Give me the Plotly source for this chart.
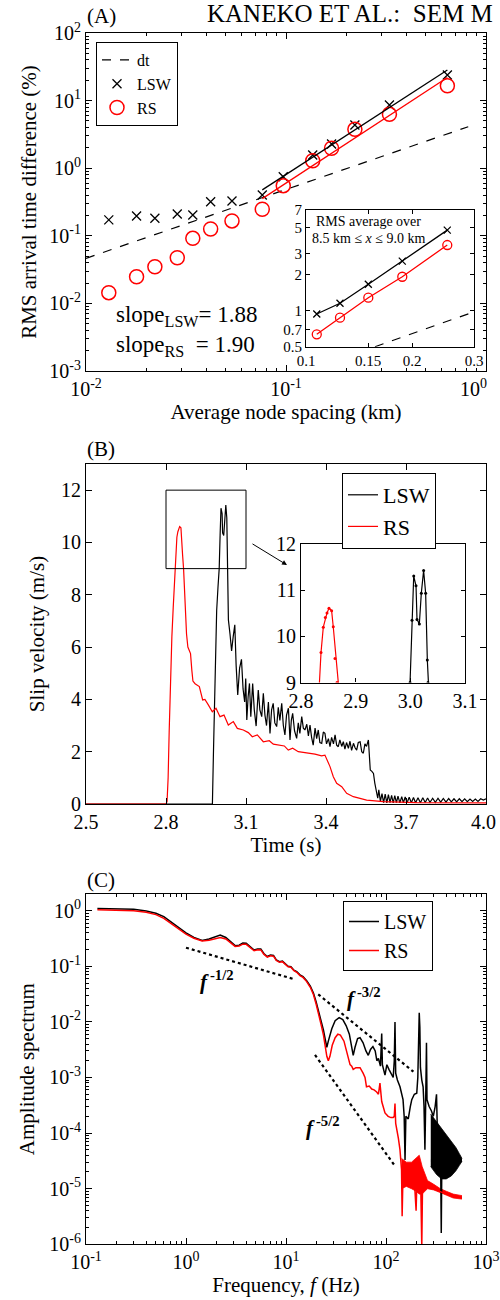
import numpy as np
import plotly.graph_objects as go

FONT = "Liberation Serif, Times New Roman, Times, serif"
W, H = 500, 1300

# ---------------- Panel A data ----------------
spacing_km = [0.0130, 0.0179, 0.0221, 0.0286, 0.0342, 0.0420, 0.0537,
              0.0761, 0.0969, 0.136, 0.169, 0.221, 0.329, 0.641]
rms_lsw = [0.172, 0.196, 0.182, 0.210, 0.203, 0.319, 0.327,
           0.402, 0.748, 1.57, 2.28, 4.35, 8.6, 23.9]
rms_rs = [0.0144, 0.0248, 0.0349, 0.0474, 0.0918, 0.126, 0.166,
          0.247, 0.551, 1.29, 1.97, 3.76, 6.27, 16.6]
dt_x = [0.01, 0.815]
dt_y = [0.0464, 4.11]
n_fit = 7

inset_spacing = [0.1073, 0.1249, 0.1503, 0.1877, 0.2519]
inset_lsw = [0.94, 1.156, 1.667, 2.61, 4.75]
inset_rs = [0.635, 0.875, 1.288, 1.93, 3.56]
inset_dt_x = [0.157, 0.3]
inset_dt_y = [0.5, 0.98]

# ---------------- Panel B data ----------------
rs_t = [2.5, 2.8, 2.804, 2.808, 2.812, 2.817, 2.822, 2.827, 2.832, 2.8366, 2.8408,
        2.8445, 2.8476, 2.8512, 2.856, 2.859, 2.8622, 2.8659, 2.869, 2.873, 2.877,
        2.882, 2.887, 2.892, 2.897, 2.901, 2.909, 2.925, 2.9375, 2.946, 2.9587,
        2.9737, 2.9875, 3.0025, 3.0175, 3.0337, 3.0525, 3.0675, 3.09, 3.1087,
        3.1237, 3.1424, 3.1649, 3.1873, 3.2024, 3.2274, 3.2437, 3.2586, 3.275,
        3.296, 3.3275, 3.3587, 3.3837, 3.396, 3.415, 3.4274, 3.44, 3.459, 3.4775,
        3.5025, 3.5525, 3.615, 3.74, 4.0]
rs_v = [0, 0, 0.1, 1.0, 2.8, 4.8, 6.4, 7.5, 8.6, 9.65, 10.2,
        10.41, 10.51, 10.61, 10.56, 10.21, 9.52, 9.0, 8.2, 7.3, 6.5,
        6.0, 5.9, 5.75, 5.1, 4.7, 4.6, 4.49, 3.98, 4.0, 3.79,
        3.53, 3.66, 3.34, 3.40, 3.02, 3.15, 2.89, 2.83, 2.73,
        2.57, 2.64, 2.38, 2.42, 2.29, 2.25, 2.22, 2.06, 2.13,
        2.0, 1.96, 1.91, 1.84, 1.87, 1.43, 1.04, 0.79, 0.66, 0.41,
        0.28, 0.15, 0.09, 0.05, 0.04]

lsw_t = [2.5, 2.974, 2.978, 2.982, 2.986, 2.99, 2.995, 2.9995, 3.0031, 3.0062,
         3.0104, 3.0122, 3.0165, 3.0201, 3.0243, 3.028, 3.0311, 3.0323, 3.034,
         3.040, 3.046, 3.052, 3.058, 3.063, 3.069, 3.076, 3.083, 3.089, 3.095,
         3.099, 3.103, 3.108, 3.113, 3.118, 3.125, 3.131, 3.138, 3.146, 3.152,
         3.159, 3.165, 3.171, 3.177, 3.184, 3.190, 3.196, 3.202, 3.208, 3.215,
         3.221, 3.227, 3.234, 3.240, 3.246, 3.252, 3.259, 3.265, 3.270, 3.275,
         3.282, 3.290, 3.296, 3.302, 3.309, 3.315, 3.321, 3.328, 3.334, 3.340,
         3.346, 3.352, 3.359, 3.365, 3.371, 3.377, 3.384, 3.390, 3.396, 3.402,
         3.409, 3.415, 3.421, 3.428, 3.434, 3.440, 3.446, 3.452, 3.459, 3.465,
         3.471, 3.477, 3.484, 3.490, 3.496, 3.503, 3.509, 3.515, 3.521, 3.528,
         3.534, 3.540, 3.546, 3.552, 3.559, 3.562, 3.566, 3.572, 3.578, 3.583,
         3.587, 3.590, 3.594, 3.598, 3.604, 3.610, 3.616, 3.622, 3.628, 3.634,
         3.640, 3.646, 3.652, 3.658, 3.664, 3.670, 3.677, 3.684, 3.690, 3.697,
         3.704, 3.712, 3.720, 3.728, 3.736, 3.745, 3.754, 3.763, 3.772, 3.781,
         3.790, 3.800, 3.810, 3.820, 3.830, 3.840, 3.850, 3.860, 3.870, 3.880,
         3.890, 3.900, 3.910, 3.920, 3.930, 3.940, 3.950, 3.960, 3.970, 3.980,
         3.990, 4.000]
lsw_v = [0, 0, 2.0, 4.0, 6.0, 7.4, 8.3, 9.0, 10.35, 11.31,
         11.1, 10.37, 10.27, 10.94, 11.43, 10.94, 9.49, 9.0, 7.04,
         6.50, 5.85, 6.40, 6.85, 5.30, 4.17, 5.20, 5.53, 4.40, 3.90,
         4.80, 3.21, 4.10, 4.61, 3.34, 4.61, 3.60, 2.98, 4.36, 3.60,
         3.34, 4.23, 3.40, 3.00, 3.90, 2.70, 3.60, 3.85, 3.10, 2.96,
         3.70, 3.20, 3.85, 3.00, 2.64, 3.40, 3.66, 2.45, 3.20, 3.47,
         2.80, 2.51, 3.10, 2.70, 3.34, 2.90, 2.83, 3.05, 2.60, 3.02,
         2.55, 2.25, 2.90, 2.50, 2.83, 2.35, 2.32, 2.75, 2.70, 2.30,
         2.50, 2.19, 2.55, 2.30, 2.64, 2.25, 2.19, 2.45, 2.20, 2.38,
         2.10, 2.35, 2.13, 2.40, 2.05, 2.32, 2.15, 2.06, 2.35, 2.38,
         2.00, 1.94, 2.30, 2.20, 2.45, 1.90, 1.30, 1.25, 1.17, 0.80,
         0.60, 0.47, 0.22, 0.54, 0.10, 0.40, 0.05, 0.38, 0.04, 0.36,
         0.05, 0.33, 0.04, 0.32, 0.05, 0.30, 0.04, 0.28, 0.05, 0.27,
         0.05, 0.26, 0.05, 0.25, 0.05, 0.24, 0.05, 0.24, 0.06, 0.23,
         0.06, 0.22, 0.06, 0.22, 0.07, 0.21, 0.07, 0.21, 0.08, 0.20,
         0.08, 0.20, 0.09, 0.20, 0.09, 0.19, 0.10, 0.19, 0.10, 0.20,
         0.15, 0.20]
zoom_t = [2.8, 3.1]
zoom_v = [9, 12]

# ---------------- Panel C data ----------------
lsw_f = [0.13, 0.2, 0.3, 0.4, 0.5, 0.6, 0.7, 0.85, 1.0, 1.2, 1.45, 1.7, 2.0, 2.2,
         2.5, 2.8, 3.1, 3.4, 3.7, 4.0, 4.4, 4.8, 5.2, 5.6, 6.0, 6.5, 7.0, 7.5,
         8.0, 8.6, 9.2, 9.8, 10.5, 11.2, 12.0, 12.8, 13.8, 14.8, 16.1, 17.5,
         18.8, 20.0, 21.1, 22.5, 23.7, 24.6, 25.6, 26.5, 28.7, 31.0, 34.0, 37.0,
         40.0, 43.0, 45.0, 47.0, 49.0, 52.0, 55.0, 59.0, 63.0, 66.5, 70.0, 74.0,
         78.0, 81.0, 84.0, 88.0, 90.6, 92.0, 97.7, 102, 107, 112, 118, 121, 123,
         125, 130, 138, 148, 152, 155, 158, 167, 175, 181, 192, 203, 208, 212,
         215, 218, 221, 228, 235, 240, 245, 249, 254, 257, 270, 285, 297, 310,
         320, 325, 335, 347, 352, 357, 362, 370, 400, 450, 500, 575]
lsw_amp = [1.10, 1.09, 1.06, 0.99, 0.90, 0.78, 0.64, 0.50, 0.40, 0.33, 0.29, 0.31,
           0.35, 0.365, 0.33, 0.27, 0.235, 0.24, 0.262, 0.26, 0.22, 0.196, 0.205,
           0.205, 0.17, 0.15, 0.16, 0.157, 0.13, 0.121, 0.124, 0.112, 0.10, 0.098,
           0.085, 0.08, 0.07, 0.065, 0.055, 0.044, 0.033, 0.023, 0.0164, 0.010,
           0.0071, 0.0050, 0.0035, 0.0045, 0.0075, 0.0105, 0.0119, 0.0110, 0.0085,
           0.0060, 0.0038, 0.0025, 0.0035, 0.0050, 0.0052, 0.0042, 0.0030, 0.0025,
           0.0032, 0.0036, 0.0030, 0.0020, 0.0022, 0.0016, 0.0062, 0.0017, 0.0011,
           0.0017, 0.0014, 0.0012, 0.0010, 0.0020, 0.0099, 0.0012, 0.0009, 0.00068,
           0.0004, 0.0002, 0.000033, 0.0002, 0.00018, 0.0003, 0.0004, 0.0005,
           0.00052, 0.0010, 0.0050, 0.0146, 0.0080, 0.0015, 0.0009, 0.00068,
           0.0003, 0.00005, 0.0003, 0.0042, 0.0004, 0.0003, 0.00025, 0.0002,
           0.0003, 0.0005, 0.00015, 0.00012, 0.0001, 0.00003, 0.0000016, 0.00004,
           0.00009, 0.00004, 0.000035, 0.000033, 0.000033]
lsw_band_f = [280, 320, 360, 400, 450, 500, 540, 575]
lsw_band_hi = [2.2e-4, 1.6e-4, 1.2e-4, 9e-5, 7e-5, 5.5e-5, 4.3e-5, 3.5e-5]
lsw_band_lo = [2.5e-5, 1.8e-5, 1.5e-5, 1.5e-5, 1.7e-5, 2.1e-5, 2.6e-5, 3.1e-5]

rs_f = [0.13, 0.2, 0.3, 0.4, 0.5, 0.6, 0.7, 0.85, 1.0, 1.2, 1.45, 1.7, 2.0, 2.2,
        2.5, 2.8, 3.1, 3.4, 3.7, 4.0, 4.4, 4.8, 5.2, 5.6, 6.0, 6.5, 7.0, 7.5,
        8.0, 8.6, 9.2, 9.8, 10.5, 11.2, 12.0, 12.8, 13.8, 14.8, 16.1, 17.5,
        18.8, 20.0, 21.1, 22.5, 23.7, 24.6, 25.6, 26.5, 27.5, 29.0, 31.0, 33.0,
        35.0, 38.0, 41.0, 43.7, 45.4, 47.0, 50.0, 55.0, 59.0, 61.7, 63.8, 68.0,
        72.0, 76.0, 80.7, 84, 87, 89, 90.6, 97.7, 105, 112, 118, 121, 123, 125,
        127, 133, 138, 143, 145, 148, 160, 175, 190, 200, 205, 215, 222, 228,
        232, 260, 300, 350, 400, 470, 575]
rs_amp = [1.04, 1.03, 1.00, 0.94, 0.85, 0.73, 0.60, 0.47, 0.38, 0.32, 0.285, 0.295,
          0.32, 0.33, 0.31, 0.26, 0.228, 0.232, 0.25, 0.248, 0.212, 0.19, 0.198,
          0.197, 0.165, 0.146, 0.155, 0.152, 0.127, 0.118, 0.121, 0.11, 0.098,
          0.096, 0.083, 0.078, 0.068, 0.063, 0.053, 0.042, 0.031, 0.021, 0.0148,
          0.0088, 0.0058, 0.0038, 0.0024, 0.0020, 0.0024, 0.0038, 0.0052, 0.0060,
          0.0058, 0.0045, 0.0028, 0.0017, 0.0016, 0.0014, 0.0015, 0.0015, 0.0012,
          0.0010, 0.00068, 0.0007, 0.00062, 0.0006, 0.00055, 0.0005, 0.00079,
          0.0004, 0.00037, 0.00023, 0.0002, 0.00019, 0.00019, 0.0002, 0.00034,
          0.00015, 0.00013, 0.00008, 0.00005, 0.000022, 0.0000032, 0.00002,
          0.00002, 0.000015, 0.00002, 0.000004, 0.00002, 0.00003, 0.000015,
          0.0000009, 0.000012, 0.000011, 0.0000098, 0.0000088, 0.000008,
          0.0000072, 0.0000068]
rs_band_f = [143, 160, 180, 200, 215, 230, 260, 300, 350, 400, 470, 575]
rs_band_hi = [3.5e-5, 3.0e-5, 3.0e-5, 3.5e-5, 4.0e-5, 2.5e-5, 1.4e-5, 1.2e-5,
              1.0e-5, 9e-6, 8e-6, 7.5e-6]
rs_band_lo = [1.0e-5, 1.1e-5, 1.0e-5, 9e-6, 8e-6, 8e-6, 1.0e-5, 9.5e-6,
              8.5e-6, 7.7e-6, 6.8e-6, 6.5e-6]

ref_half_f = [1.0, 12.3]
ref_half_amp = [0.216, 0.058]
ref_3half_f = [21.0, 188.0]
ref_3half_amp = [0.0313, 0.00127]
ref_5half_f = [19.5, 123.0]
ref_5half_amp = [0.00254, 2.56e-5]

# ---------------- helpers ----------------
def dx(p0, p1):
    return [p0 / W, p1 / W]

def dy(top, bot):
    return [1 - bot / H, 1 - top / H]

def px(x):
    return x / W

def py(y):
    return 1 - y / H

NB = "\u00a0"

def pw(exp, pad=0):
    return "10<sup>%d</sup>" % exp + NB * pad

def base_axis(**kw):
    d = dict(showline=True, linecolor="black", linewidth=1.2, mirror="ticks",
             ticks="inside", ticklen=6, tickcolor="black", tickwidth=1,
             showgrid=False, zeroline=False, automargin=False, ticklabeloverflow="allow",
             tickfont=dict(family=FONT, size=20, color="black"))
    d.update(kw)
    return d

def minor_vals(e0, e1):
    return [k * 10.0 ** e for e in range(e0, e1) for k in range(2, 10)]

def minor_log(e0, e1):
    return dict(ticks="inside", ticklen=3, tickcolor="black", showgrid=False,
                tickmode="array", tickvals=minor_vals(e0, e1))

fig = go.Figure()

# ---------- Panel A ----------
lx = np.log10(spacing_km[-n_fit:])
c_lsw = np.polyfit(lx, np.log10(rms_lsw[-n_fit:]), 1)
c_rs = np.polyfit(lx, np.log10(rms_rs[-n_fit:]), 1)
fit_x = np.array([spacing_km[-n_fit], spacing_km[-1]])

fig.add_trace(go.Scatter(x=dt_x, y=dt_y, mode="lines", name="dt",
                         line=dict(color="black", width=1.2, dash="dash"),
                         xaxis="x", yaxis="y", legend="legend"))
fig.add_trace(go.Scatter(x=spacing_km, y=rms_lsw, mode="markers", name="LSW",
                         marker=dict(symbol="x-thin", size=9, line=dict(color="black", width=1.3)),
                         xaxis="x", yaxis="y", legend="legend"))
fig.add_trace(go.Scatter(x=spacing_km, y=rms_rs, mode="markers", name="RS",
                         marker=dict(symbol="circle-open", size=14, color="red", line=dict(color="red", width=1.5)),
                         xaxis="x", yaxis="y", legend="legend"))
fig.add_trace(go.Scatter(x=fit_x, y=10 ** np.polyval(c_lsw, np.log10(fit_x)), mode="lines",
                         line=dict(color="black", width=1.3), showlegend=False, xaxis="x", yaxis="y"))
fig.add_trace(go.Scatter(x=fit_x, y=10 ** np.polyval(c_rs, np.log10(fit_x)), mode="lines",
                         line=dict(color="red", width=1.3), showlegend=False, xaxis="x", yaxis="y"))

# inset A
fig.add_trace(go.Scatter(x=inset_dt_x, y=inset_dt_y, mode="lines", showlegend=False,
                         line=dict(color="black", width=1.2, dash="dash"), xaxis="x2", yaxis="y2"))
fig.add_trace(go.Scatter(x=inset_spacing, y=inset_lsw, mode="lines+markers", showlegend=False,
                         line=dict(color="black", width=1.3),
                         marker=dict(symbol="x-thin", size=7, line=dict(color="black", width=1.3)),
                         xaxis="x2", yaxis="y2"))
fig.add_trace(go.Scatter(x=inset_spacing, y=inset_rs, mode="lines+markers", showlegend=False,
                         line=dict(color="red", width=1.3),
                         marker=dict(symbol="circle-open", size=9, color="red", line=dict(color="red", width=1.3)),
                         xaxis="x2", yaxis="y2"))

# ---------- Panel B ----------
fig.add_trace(go.Scatter(x=lsw_t, y=lsw_v, mode="lines", name="LSW",
                         line=dict(color="black", width=1.2), xaxis="x3", yaxis="y3", legend="legend2"))
fig.add_trace(go.Scatter(x=rs_t, y=rs_v, mode="lines", name="RS",
                         line=dict(color="red", width=1.2), xaxis="x3", yaxis="y3", legend="legend2"))
fig.add_trace(go.Scatter(x=lsw_t, y=lsw_v, mode="lines+markers", showlegend=False,
                         line=dict(color="black", width=1.2), marker=dict(size=3, color="black"),
                         xaxis="x4", yaxis="y4"))
fig.add_trace(go.Scatter(x=rs_t, y=rs_v, mode="lines+markers", showlegend=False,
                         line=dict(color="red", width=1.2), marker=dict(size=3, color="red"),
                         xaxis="x4", yaxis="y4"))

# ---------- Panel C ----------
for ff, hi, lo, col in [(lsw_band_f, lsw_band_hi, lsw_band_lo, "black"),
                        (rs_band_f, rs_band_hi, rs_band_lo, "red")]:
    fig.add_trace(go.Scatter(x=ff, y=lo, mode="lines", line=dict(color=col, width=0.8),
                             showlegend=False, xaxis="x5", yaxis="y5"))
    fig.add_trace(go.Scatter(x=ff, y=hi, mode="lines", line=dict(color=col, width=0.8),
                             fill="tonexty", fillcolor=col, showlegend=False,
                             xaxis="x5", yaxis="y5"))
fig.add_trace(go.Scatter(x=lsw_f, y=lsw_amp, mode="lines", name="LSW",
                         line=dict(color="black", width=1.5), xaxis="x5", yaxis="y5", legend="legend3"))
fig.add_trace(go.Scatter(x=rs_f, y=rs_amp, mode="lines", name="RS",
                         line=dict(color="red", width=1.5), xaxis="x5", yaxis="y5", legend="legend3"))
for rf, ra in [(ref_half_f, ref_half_amp), (ref_3half_f, ref_3half_amp), (ref_5half_f, ref_5half_amp)]:
    fig.add_trace(go.Scatter(x=rf, y=ra, mode="lines", showlegend=False,
                             line=dict(color="black", width=2.2, dash="dot"), xaxis="x5", yaxis="y5"))

# ---------- Axes ----------
TF = dict(family=FONT, size=21, color="black")
fig.update_layout(
    xaxis=base_axis(type="log", domain=dx(86, 486), range=[-2, 0], anchor="y",
                    tickvals=[0.01, 0.1, 1], ticktext=[pw(-2), pw(-1), pw(0, 5)], minor=minor_log(-2, 0),
                    title=dict(text="Average node spacing (km)", font=TF, standoff=4)),
    yaxis=base_axis(type="log", domain=dy(33, 371), range=[-3, 2], anchor="x",
                    tickvals=[1e-3, 1e-2, 1e-1, 1, 10, 100], ticktext=[pw(e) for e in range(-3, 3)],
                    minor=minor_log(-3, 2),
                    title=dict(text="RMS arrival time difference (%)", font=TF, standoff=6)),
    xaxis2=base_axis(type="log", domain=dx(306, 474), range=[-1, np.log10(0.3)], anchor="y2",
                     tickvals=[0.1, 0.15, 0.2, 0.3], ticktext=["0.1", "0.15", "0.2", "0.3"], ticklen=4,
                     tickfont=dict(family=FONT, size=15, color="black")),
    yaxis2=base_axis(type="log", domain=dy(210, 346.7), range=[np.log10(0.5), np.log10(7)], anchor="x2",
                     tickvals=[0.5, 0.7, 1, 2, 3, 5, 7], ticktext=["0.5", "0.7", "1", "2", "3", "5", "7"], ticklen=4,
                     tickfont=dict(family=FONT, size=15, color="black")),
    xaxis3=base_axis(domain=dx(86, 486), range=[2.5, 4.0], anchor="y3",
                     tickvals=[2.5, 2.8, 3.1, 3.4, 3.7, 4.0], ticktext=["2.5", "2.8", "3.1", "3.4", "3.7", "4.0" + NB],
                     title=dict(text="Time (s)", font=TF, standoff=4)),
    yaxis3=base_axis(domain=dy(464, 804), range=[0, 13], anchor="x3", tickvals=[0, 2, 4, 6, 8, 10, 12],
                     title=dict(text="Slip velocity (m/s)", font=TF, standoff=10)),
    xaxis4=base_axis(domain=dx(301, 465), range=zoom_t, anchor="y4",
                     tickvals=[2.8, 2.9, 3.0, 3.1], ticktext=["2.8", "2.9", "3.0", "3.1"], ticklen=4),
    yaxis4=base_axis(domain=dy(544.3, 682.5), range=zoom_v, anchor="x4", tickvals=[9, 10, 11, 12], ticklen=4),
    xaxis5=base_axis(type="log", domain=dx(86, 486), range=[-1, 3], anchor="y5",
                     tickvals=[0.1, 1, 10, 100, 1000], ticktext=[pw(e) for e in range(-1, 4)],
                     minor=minor_log(-1, 3),
                     title=dict(text="Frequency, <i>f</i> (Hz)", font=TF, standoff=2)),
    yaxis5=base_axis(type="log", domain=dy(894, 1244.3), range=[-6, 0.3], anchor="x5",
                     tickvals=[1e-6, 1e-5, 1e-4, 1e-3, 1e-2, 1e-1, 1], ticktext=[pw(e) for e in range(-6, 1)],
                     minor=minor_log(-6, 1),
                     title=dict(text="Amplitude spectrum", font=TF, standoff=8)),
)

leg_common = dict(bordercolor="black", borderwidth=1, bgcolor="white", xanchor="left", yanchor="top",
                  tracegroupgap=0, itemwidth=30, traceorder="normal")
fig.update_layout(
    legend=dict(x=px(96), y=py(42), font=dict(family=FONT, size=16, color="black"), **leg_common),
    legend2=dict(x=px(342), y=py(473), font=dict(family=FONT, size=22, color="black"), **leg_common),
    legend3=dict(x=px(343), y=py(901), font=dict(family=FONT, size=20, color="black"), **leg_common),
)

# ---------- Shapes & annotations ----------
fig.add_shape(type="rect", xref="x3", yref="y3", x0=zoom_t[0], x1=zoom_t[1], y0=zoom_v[0], y1=zoom_v[1],
              line=dict(color="black", width=1))

ann = []
def txt(text, x, y, size, xanchor="left", yanchor="middle"):
    ann.append(dict(text=text, x=px(x), y=py(y), xref="paper", yref="paper", showarrow=False,
                    xanchor=xanchor, yanchor=yanchor, font=dict(family=FONT, size=size, color="black")))

THIN = "\u2009"
txt("(A)", 85, 16, 21)
txt("(B)", 85, 449, 21)
txt("(C)", 85, 880, 21)
txt("KANEKO ET AL.:  SEM M", 205, 14, 25)
txt("slope<sub>LSW</sub>= 1.88", 114, 316, 23)
txt("slope<sub>RS</sub>  = 1.90", 114, 346, 23)
txt("RMS average over", 368, 221, 14, "center")
txt("8.5 km ≤ <i>x</i> ≤ 9.0 km", 368, 238, 14, "center")
txt("<b><i>f</i></b><sup><b>" + THIN + "-1/2</b></sup>", 198, 980, 21)
txt("<b><i>f</i></b><sup><b>" + THIN + "-3/2</b></sup>", 345, 997, 21)
txt("<b><i>f</i></b><sup><b>" + THIN + "-5/2</b></sup>", 304, 1126, 21)

ann.append(dict(x=px(287), y=py(565), xref="paper", yref="paper", text="", showarrow=True,
                ax=-36, ay=-22, arrowhead=2, arrowsize=1, arrowwidth=1, arrowcolor="black"))

fig.update_layout(annotations=ann, width=W, height=H, margin=dict(l=0, r=0, t=0, b=0),
                  paper_bgcolor="white", plot_bgcolor="white",
                  font=dict(family=FONT, color="black"))

fig.write_html("out.html", config={"displayModeBar": False},
               post_script="document.body.style.margin='0';document.body.style.padding='0';")
